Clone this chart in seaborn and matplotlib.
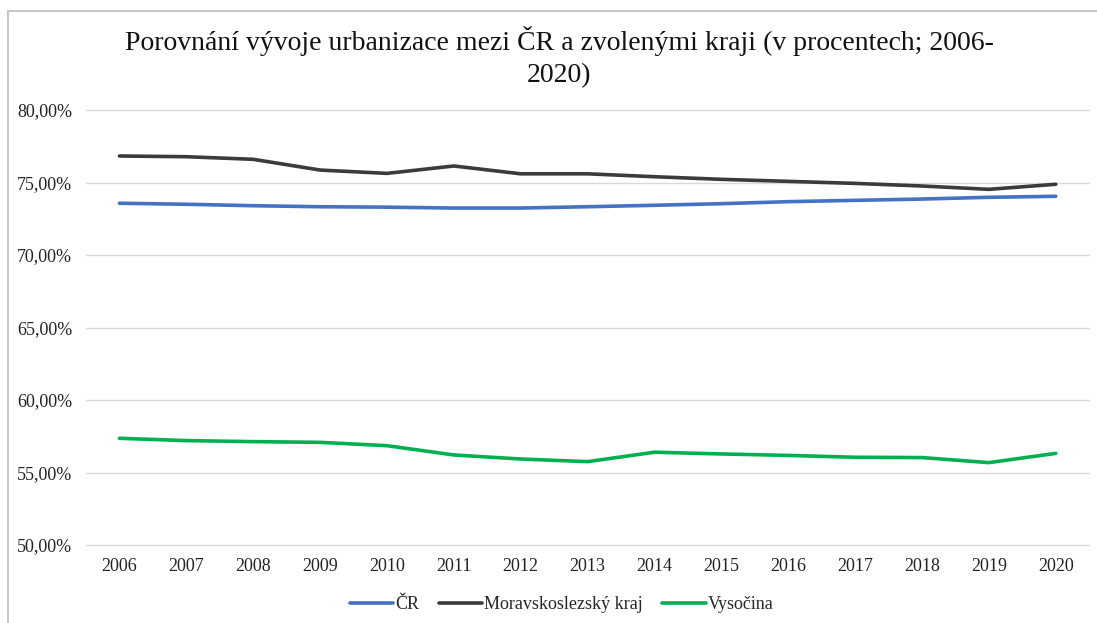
import pandas as pd
import seaborn as sns
import matplotlib.pyplot as plt
from matplotlib.ticker import FuncFormatter
from matplotlib.patches import Rectangle

years = [str(y) for y in range(2006, 2021)]
cr = [73.57, 73.50, 73.40, 73.33, 73.30, 73.24, 73.24, 73.33, 73.43, 73.54, 73.68, 73.77, 73.86, 73.98, 74.05]
msk = [76.83, 76.78, 76.60, 75.86, 75.63, 76.14, 75.60, 75.60, 75.40, 75.22, 75.08, 74.94, 74.76, 74.53, 74.88]
vysocina = [57.36, 57.20, 57.13, 57.08, 56.85, 56.21, 55.93, 55.75, 56.40, 56.28, 56.18, 56.05, 56.03, 55.68, 56.32]
names = ['ČR', 'Moravskoslezský kraj', 'Vysočina']
colors = ['#4472C4', '#3b3b3b', '#00B050']

df = pd.DataFrame({'rok': years * 3,
                   'hodnota': cr + msk + vysocina,
                   'oblast': [n for n in names for _ in years]})

sns.set_style('white')
plt.rcParams['font.family'] = ['Liberation Serif', 'DejaVu Serif']

fig = plt.figure(figsize=(10.97, 6.23), dpi=100)
ax = fig.add_axes([0.0784, 0.1252, 0.9145, 0.6982])
sns.lineplot(data=df, x='rok', y='hodnota', hue='oblast', palette=colors,
             linewidth=2.6, ax=ax, sort=False)

ax.set_ylim(50, 80)
ax.set_xlim(-0.5, 14.5)
ax.set_yticks(range(50, 81, 5))
ax.yaxis.set_major_formatter(FuncFormatter(lambda v, p: f'{v:.2f}%'.replace('.', ',')))
ax.grid(axis='y', color='#d9d9d9', linewidth=1)
for gl in ax.get_ygridlines():
    gl.set_clip_on(False)
ax.set_axisbelow(True)
for s in ax.spines.values():
    s.set_visible(False)
ax.tick_params(axis='both', length=0, labelsize=13, colors='#222222')
ax.tick_params(axis='x', pad=9)
ax.tick_params(axis='y', pad=10)
ax.set_xlabel('')
ax.set_ylabel('')

ax.legend(loc='upper center', bbox_to_anchor=(0.474, -0.08), ncol=3, frameon=False,
          fontsize=13, handlelength=2.4, handletextpad=0.1, columnspacing=1.1)

fig.text(0.51, 0.958, 'Porovnání vývoje urbanizace mezi ČR a zvolenými kraji (v procentech; 2006-\n2020)',
         ha='center', va='top', fontsize=20, linespacing=1.35, color='#111111')

fig.patches.append(Rectangle((8 / 1097, -0.05), 1.1, 1 - 11 / 623 + 0.05, transform=fig.transFigure,
                             fill=False, edgecolor='#c8c8c8', linewidth=1.5))

plt.savefig('out.png', dpi=100)
